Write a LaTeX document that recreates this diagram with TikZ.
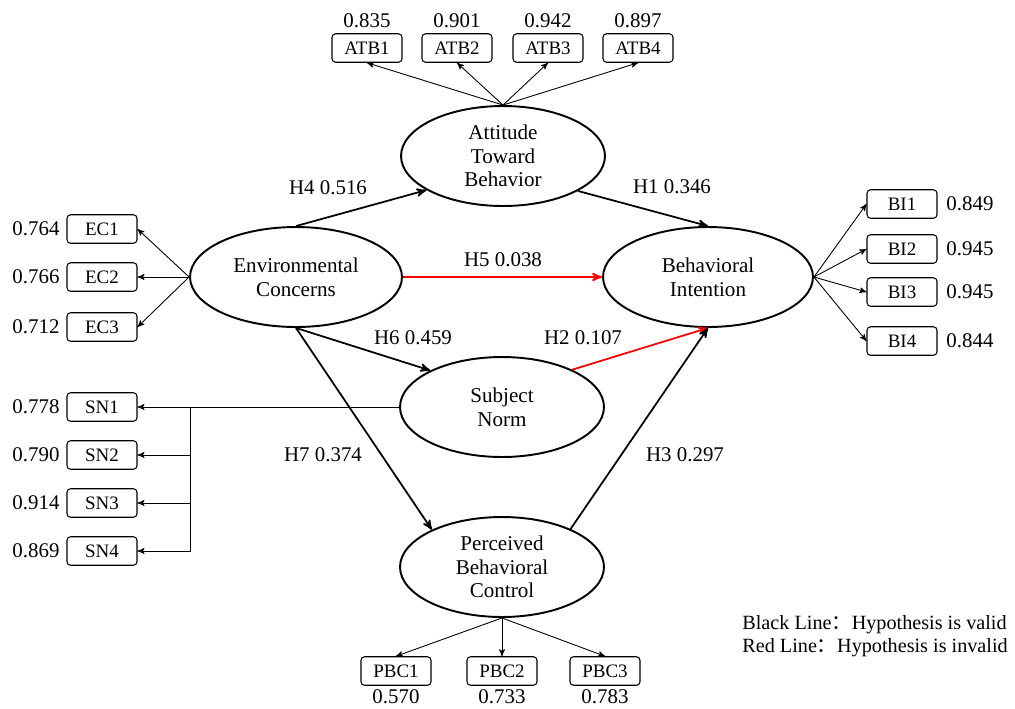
\documentclass[tikz,border=0pt]{standalone}
\usepackage{fontspec}
\setmainfont{Liberation Serif}
\newfontfamily\cjk{Noto Sans CJK SC}
\usetikzlibrary{arrows,shapes.geometric,positioning}
\tikzset{>=stealth'}
\tikzset{
  latent/.style={ellipse,draw,line width=1.1pt,minimum width=4.08cm,minimum height=2cm,inner sep=0pt,align=center,font=\fontsize{12}{13.5}\selectfont},
  item/.style={draw,rounded corners=2pt,line width=0.6pt,minimum width=1.4cm,minimum height=0.57cm,inner sep=0pt,font=\fontsize{10.8}{12}\selectfont},
  val/.style={inner sep=0pt,font=\fontsize{11.9}{13}\selectfont},
  legend/.style={inner sep=0pt,anchor=west,font=\fontsize{11.5}{13}\selectfont},
  hyp/.style={->,line width=1pt},
  load/.style={->,line width=0.5pt},
}

\begin{document}
\begin{tikzpicture}[x=0.02cm,y=-0.02cm]
  \useasboundingbox (0,0) rectangle (1015,708);
  % latent variables
  \node[latent] (atb) at (503,156) {Attitude\\Toward\\Behavior};
  \node[latent,minimum width=4.24cm] (ec) at (296,277) {Environmental\\Concerns};
  \node[latent,minimum width=4.2cm] (bi) at (708,277) {Behavioral\\Intention};
  \node[latent] (sn) at (502,407) {Subject\\Norm};
  \node[latent] (pbc) at (502,567) {Perceived\\Behavioral\\Control};

  % indicators
  \foreach \i/\x/\v in {1/367/0.835,2/457/0.901,3/548/0.942,4/638/0.897} {
    \node[item] (atb\i) at (\x,48) {ATB\i};
    \node[val] (atbv\i) at (\x,21) {\v};
    \draw[load] (atb.north) -- (atb\i.south);
  }
  \foreach \i/\y/\v in {1/229/0.764,2/277/0.766,3/327/0.712} {
    \node[item] (ec\i) at (102,\y) {EC\i};
    \node[val] (ecv\i) at (36,\y) {\v};
    \draw[load] (ec.west) -- (ec\i.east);
  }
  \foreach \i/\y/\v in {1/204/0.849,2/249/0.945,3/292/0.945,4/341/0.844} {
    \node[item] (bi\i) at (902,\y) {BI\i};
    \node[val] (biv\i) at (970,\y) {\v};
    \draw[load] (bi.east) -- (bi\i.west);
  }
  \foreach \i/\y/\v in {1/407/0.778,2/455/0.790,3/503/0.914,4/551/0.869} {
    \node[item] (sn\i) at (102,\y) {SN\i};
    \node[val] (snv\i) at (36,\y) {\v};
  }
  \foreach \i/\x/\v in {1/396/0.570,2/502/0.733,3/605/0.783} {
    \node[item] (pbc\i) at (\x,671) {PBC\i};
    \node[val] (pbcv\i) at (\x,697) {\v};
    \draw[load] (pbc.south) -- (pbc\i.north);
  }
  \coordinate (snj) at (190,407);
  \draw[load] (sn.west) -- (sn1.east);
  \foreach \i in {2,3,4}
    \draw[load] (snj) |- (sn\i.east);

  % hypotheses
  \draw[hyp] (ec.north) -- (atb.204);
  \draw[hyp] (atb.-25) -- (bi.north);
  \draw[hyp,red] (ec.east) -- (bi.west);
  \draw[hyp] (ec.south) -- (sn.153);
  \draw[hyp,red] (sn.28) -- (bi.south);
  \draw[hyp] (ec.south) -- (pbc.152);
  \draw[hyp] (pbc.29) -- (bi.south);
  \node[val] (h4) at (328,188) {H4 0.516};
  \node[val] (h1) at (672,187) {H1 0.346};
  \node[val] (h5) at (503,260) {H5 0.038};
  \node[val] (h6) at (413,338) {H6 0.459};
  \node[val] (h2) at (583,338) {H2 0.107};
  \node[val] (h7) at (323,455) {H7 0.374};
  \node[val] (h3) at (685,455) {H3 0.297};

  % legend
  \node[legend] (leg1) at (742,625) {Black Line{\cjk ：}Hypothesis is valid};
  \node[legend] (leg2) at (742,648) {Red Line{\cjk ：}Hypothesis is invalid};
\end{tikzpicture}
\end{document}
